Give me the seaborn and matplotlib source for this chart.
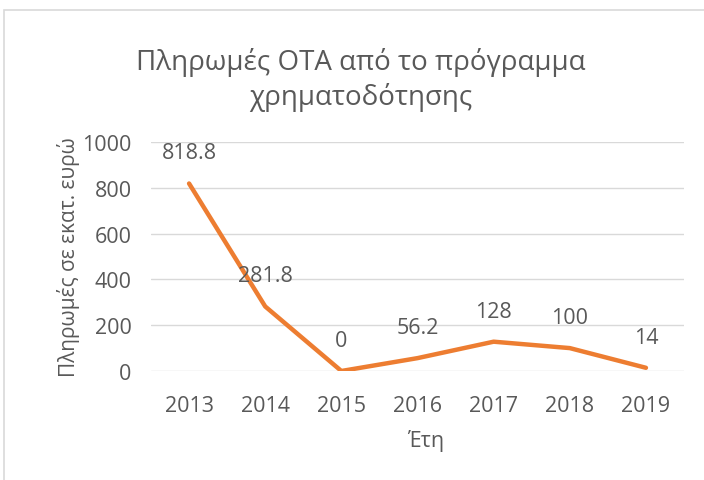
import matplotlib
matplotlib.use("Agg")
import matplotlib.pyplot as plt
import seaborn as sns
import pandas as pd
from matplotlib.patches import Rectangle

years = ["2013", "2014", "2015", "2016", "2017", "2018", "2019"]
payments = [818.8, 281.8, 0, 56.2, 128, 100, 14]
labels = ["818.8", "281.8", "0", "56.2", "128", "100", "14"]
yticks = [0, 200, 400, 600, 800, 1000]

sns.set_theme(style="white")
plt.rcParams['font.family'] = ['Open Sans', 'DejaVu Sans']

df = pd.DataFrame({"year": years, "value": payments})
txt = "#595959"
fs = 15.5

fig = plt.figure(figsize=(7.04, 4.81), dpi=100)
ax = fig.add_axes([151/704, 1-372/481, (684-151)/704, (372-143)/481])

sns.lineplot(data=df, x="year", y="value", ax=ax, color="#ED7D31",
             linewidth=3.2, sort=False, solid_capstyle="round")

ax.set_ylim(0, 1000)
ax.set_xlim(-0.5, len(years) - 0.5)
ax.set_yticks(yticks)
ax.set_yticklabels([str(t) for t in yticks])
for t in yticks:
    ax.axhline(t, color="#D9D9D9", linewidth=1.0, zorder=0)
for s in ax.spines.values():
    s.set_visible(False)
ax.tick_params(axis="both", length=0, labelsize=fs, colors=txt)
ax.tick_params(axis="x", pad=17)
ax.tick_params(axis="y", pad=14)

for i, (v, lab) in enumerate(zip(payments, labels)):
    ax.annotate(lab, (i, v), xytext=(0, 22), textcoords="offset points",
                ha="center", va="center", fontsize=fs, color=txt)

ax.set_xlabel("")
ax.set_ylabel("")
fig.text(426/704, 1-441/481, "Έτη", ha="center", va="center",
         fontsize=fs, color=txt)
fig.text(68/704, 1-257/481, "Πληρωμές σε εκατ. ευρώ", ha="center",
         va="center", rotation=90, fontsize=15, color=txt)

fig.text(361/704, 1-80/481, "Πληρωμές ΟΤΑ από το πρόγραμμα\nχρηματοδότησης",
         ha="center", va="center", fontsize=20, color=txt, linespacing=1.25)

fig.patches.append(Rectangle((4/704, -0.1), 1.2, 1 - 11/481 + 0.1,
                             transform=fig.transFigure, fill=False,
                             edgecolor="#D9D9D9", linewidth=1.2))

fig.savefig("out.png", dpi=100, facecolor="white")
